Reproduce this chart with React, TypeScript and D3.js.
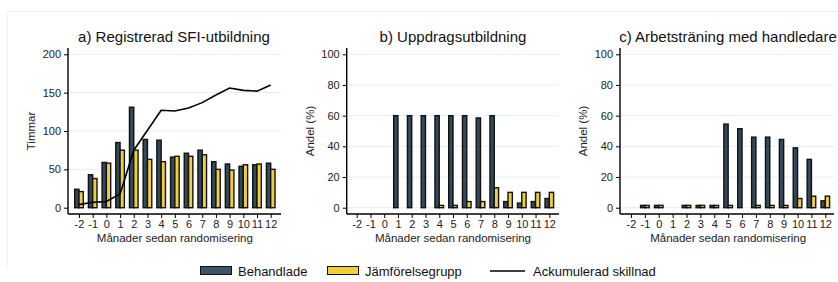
import React, { useEffect, useRef } from 'react'
import * as d3 from 'd3'

const months = [-2, -1, 0, 1, 2, 3, 4, 5, 6, 7, 8, 9, 10, 11, 12]

// a) Registrerad SFI-utbildning (timmar)
const sfiTreated = [24, 43, 59, 85, 131, 89, 88, 66, 71, 75, 60, 57, 54, 56, 58]
const sfiControl = [21, 38, 58, 75, 75, 63, 60, 67, 67, 69, 50, 49, 56, 57, 50]
const sfiCumDiff = [4, 7, 8, 18, 75, 101, 127, 126, 130, 137, 147, 156, 153, 152, 160]

// b) Uppdragsutbildning (andel %)
const uppTreated = [0, 0, 0, 60, 60, 60, 60, 60, 60, 58.5, 60, 4, 3, 4, 6]
const uppControl = [0, 0, 0, 0, 0, 0, 1.5, 1.5, 4, 4, 13, 10, 10, 10, 10]

// c) Arbetsträning med handledare (andel %)
const arbTreated = [0, 1.5, 1.5, 0, 1.5, 1.5, 1.5, 54.5, 51.5, 46, 46, 44.5, 39, 31.5, 4.5]
const arbControl = [0, 1.5, 1.5, 0, 1.5, 1.5, 1.5, 1.5, 0, 1.5, 1.5, 1.5, 6, 7.5, 7.5]

const yTicksA = [0, 50, 100, 150, 200]
const yTicksPct = [0, 20, 40, 60, 80, 100]

const DARK = '#34495c'
const YELLOW = '#f2cf3a'
const GRID = '#e6eef3'
const FONT = 'Liberation Sans, Arial, Helvetica, sans-serif'

interface PanelSpec {
  title: string
  yLabel: string
  treated: number[]
  control: number[]
  line?: number[]
  yMax: number
  yTicks: number[]
  axisX: number
  right: number
  xFirst: number
  xLast: number
  titleX: number
}

const panels: PanelSpec[] = [
  { title: 'a) Registrerad SFI-utbildning', yLabel: 'Timmar', treated: sfiTreated, control: sfiControl, line: sfiCumDiff, yMax: 200, yTicks: yTicksA, axisX: 68, right: 281, xFirst: 79, xLast: 270.7, titleX: 174 },
  { title: 'b) Uppdragsutbildning', yLabel: 'Andel (%)', treated: uppTreated, control: uppControl, yMax: 100, yTicks: yTicksPct, axisX: 346.7, right: 559, xFirst: 356.7, xLast: 549.3, titleX: 453 },
  { title: 'c) Arbetsträning med handledare', yLabel: 'Andel (%)', treated: arbTreated, control: arbControl, yMax: 100, yTicks: yTicksPct, axisX: 620, right: 834, xFirst: 631, xLast: 825.3, titleX: 728 },
]

export default function App() {
  const svgRef = useRef<SVGSVGElement>(null)

  useEffect(() => {
    if (!svgRef.current) return
    const svg = d3.select(svgRef.current)
    svg.selectAll('*').remove()

    const y0 = 207.7
    const yTop = 54.3
    const xAxisY = 214
    const barW = 4.3

    // faint outer frame
    svg.append('path')
      .attr('d', 'M7.5,268 V11.5 H838')
      .attr('fill', 'none')
      .attr('stroke', '#f1f1f1')

    panels.forEach((p) => {
      const g = svg.append('g')
      const x = d3.scaleLinear().domain([-2, 12]).range([p.xFirst, p.xLast])
      const y = d3.scaleLinear().domain([0, p.yMax]).range([y0, yTop])

      // gridlines
      g.selectAll('.grid')
        .data(p.yTicks)
        .join('line')
        .attr('x1', p.axisX + 1)
        .attr('x2', p.right)
        .attr('y1', (d) => y(d))
        .attr('y2', (d) => y(d))
        .attr('stroke', GRID)
        .attr('stroke-width', 1)

      // bars
      const bars = g.append('g')
      bars.selectAll('.treated')
        .data(p.treated.map((v, i) => ({ m: months[i], v })).filter((d) => d.v > 0))
        .join('rect')
        .attr('x', (d) => x(d.m) - barW)
        .attr('y', (d) => y(d.v))
        .attr('width', barW)
        .attr('height', (d) => y0 - y(d.v))
        .attr('fill', DARK)
        .attr('stroke', '#111')
        .attr('stroke-width', 1.4)
      bars.selectAll('.control')
        .data(p.control.map((v, i) => ({ m: months[i], v })).filter((d) => d.v > 0))
        .join('rect')
        .attr('x', (d) => x(d.m))
        .attr('y', (d) => y(d.v))
        .attr('width', barW)
        .attr('height', (d) => y0 - y(d.v))
        .attr('fill', YELLOW)
        .attr('stroke', '#111')
        .attr('stroke-width', 1.4)

      if (p.line) {
        const line = d3.line<number>()
          .x((d, i) => x(months[i]))
          .y((d) => y(d))
        g.append('path')
          .datum(p.line)
          .attr('d', line)
          .attr('fill', 'none')
          .attr('stroke', '#000')
          .attr('stroke-width', 1.6)
      }

      // axes
      const yAxis = g.append('g')
        .attr('transform', `translate(${p.axisX},0)`)
        .call(d3.axisLeft(y).tickValues(p.yTicks).tickSize(4).tickPadding(3))
      yAxis.select('.domain').remove()
      g.append('line')
        .attr('x1', p.axisX).attr('x2', p.axisX)
        .attr('y1', 48).attr('y2', xAxisY)
        .attr('stroke', '#000').attr('stroke-width', 1.4)

      const xAxis = g.append('g')
        .attr('transform', `translate(0,${xAxisY})`)
        .call(d3.axisBottom(x).tickValues(months).tickSize(4).tickPadding(2).tickFormat((d) => String(d)))
      xAxis.select('.domain').remove()
      g.append('line')
        .attr('x1', p.axisX).attr('x2', p.right)
        .attr('y1', xAxisY).attr('y2', xAxisY)
        .attr('stroke', '#000').attr('stroke-width', 1.4)

      g.selectAll('.tick line').attr('stroke', '#000')
      g.selectAll('.tick text')
        .attr('font-family', FONT)
        .attr('font-size', 11)
        .attr('fill', '#222')

      // labels
      g.append('text')
        .attr('x', p.titleX)
        .attr('y', 42)
        .attr('text-anchor', 'middle')
        .attr('font-family', FONT)
        .attr('font-size', 15)
        .attr('fill', '#111')
        .text(p.title)

      g.append('text')
        .attr('x', (p.xFirst + p.xLast) / 2)
        .attr('y', 242)
        .attr('text-anchor', 'middle')
        .attr('font-family', FONT)
        .attr('font-size', 11.5)
        .attr('fill', '#222')
        .text('Månader sedan randomisering')

      const lx = p.axisX - 33
      g.append('text')
        .attr('transform', `translate(${lx},${(y0 + yTop) / 2}) rotate(-90)`)
        .attr('text-anchor', 'middle')
        .attr('font-family', FONT)
        .attr('font-size', 11.5)
        .attr('fill', '#222')
        .text(p.yLabel)
    })

    // legend
    const legend = svg.append('g').attr('transform', 'translate(0,271)')
    const legendItems = [
      { label: 'Behandlade', color: '#3e5367', x: 200 },
      { label: 'Jämförelsegrupp', color: YELLOW, x: 327 },
      { label: 'Ackumulerad skillnad', color: '#000', x: 490, type: 'line' },
    ]
    legendItems.forEach((d) => {
      if (d.type === 'line') {
        legend.append('line')
          .attr('x1', d.x).attr('x2', d.x + 35)
          .attr('y1', 0).attr('y2', 0)
          .attr('stroke', '#000').attr('stroke-width', 1.6)
      } else {
        legend.append('rect')
          .attr('x', d.x + 0.5).attr('y', -4.5)
          .attr('width', 31).attr('height', 8)
          .attr('fill', d.color)
          .attr('stroke', '#111').attr('stroke-width', 1)
      }
      legend.append('text')
        .attr('x', d.type === 'line' ? d.x + 43 : d.x + 38)
        .attr('y', 0)
        .attr('dy', '0.35em')
        .attr('font-family', FONT)
        .attr('font-size', 13)
        .attr('fill', '#111')
        .text(d.label)
    })
  }, [])

  return (
    <svg
      ref={svgRef}
      width={838}
      height={282}
      style={{ position: 'absolute', left: 0, top: 0, background: '#fff' }}
    />
  )
}
